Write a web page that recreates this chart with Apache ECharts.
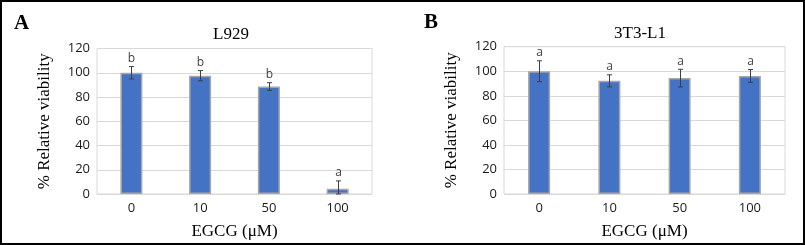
<!DOCTYPE html>
<html>
<head>
<meta charset="utf-8">
<script src="https://cdn.jsdelivr.net/npm/echarts@6/dist/echarts.min.js"></script>
<style>html,body{margin:0;padding:0;background:#fff}#c{width:805px;height:245px}</style>
</head>
<body>
<div id="c"></div>
<script>
const categories = ['0', '10', '50', '100'];
const yTicks = [0, 20, 40, 60, 80, 100, 120];
const l929Mean = [100, 97.6, 88.6, 4.3];
const l929Err = [5.1, 4.2, 3.2, 6.5];
const l929Letters = ['b', 'b', 'b', 'a'];
const t3Mean = [100, 92.2, 94.4, 96.2];
const t3Err = [8.5, 4.9, 7.2, 5.2];
const t3Letters = ['a', 'a', 'a', 'a'];

const chart = echarts.init(document.getElementById('c'));
const serif = 'Liberation Serif';
const sans = 'Open Sans';

function errSeries(idx, mean, err, letters) {
  return {
    type: 'custom', xAxisIndex: idx, yAxisIndex: idx, z: 10,
    data: mean.map((m, i) => [i, m, err[i], letters[i]]),
    renderItem: function (params, api) {
      const i = api.value(0), m = api.value(1), e = api.value(2);
      const top = api.coord([i, m + e]);
      const bot = api.coord([i, Math.max(0, m - e)]);
      const x = Math.round(top[0]) + 0.5;
      const c = 2.5;
      const st = { stroke: '#3f3f3f', lineWidth: 1 };
      return {
        type: 'group', children: [
          { type: 'line', shape: { x1: x, y1: top[1], x2: x, y2: bot[1] }, style: st },
          { type: 'line', shape: { x1: x - c, y1: top[1], x2: x + c, y2: top[1] }, style: st },
          { type: 'line', shape: { x1: x - c, y1: bot[1], x2: x + c, y2: bot[1] }, style: st },
          { type: 'text', x: x, y: top[1] - 2, style: { text: letters[i], fill: '#3f3f3f', font: '12px "Open Sans"', align: 'center', verticalAlign: 'bottom' } }
        ]
      };
    }
  };
}

function yAx(idx) {
  return {
    gridIndex: idx, type: 'value', min: 0, max: 120, interval: 20,
    name: '% Relative viability', nameLocation: 'middle', nameGap: 44,
    nameTextStyle: { fontFamily: serif, fontSize: 17, color: '#000' },
    axisLine: { show: false }, axisTick: { show: false },
    axisLabel: { fontFamily: sans, fontSize: 13, color: '#1a1a1a', margin: 7 },
    splitLine: { lineStyle: { color: '#d9d9d9', width: 1 } }
  };
}
function xAx(idx) {
  return {
    gridIndex: idx, type: 'category', data: categories,
    name: 'EGCG (\u03bcM)', nameLocation: 'middle', nameGap: 29,
    nameTextStyle: { fontFamily: serif, fontSize: 17, color: '#000' },
    axisLine: { show: false }, axisTick: { show: false },
    axisLabel: { fontFamily: sans, fontSize: 13, color: '#1a1a1a', margin: 8 }
  };
}
function barSeries(idx, mean) {
  return {
    type: 'bar', xAxisIndex: idx, yAxisIndex: idx, data: mean, barWidth: 22,
    itemStyle: { color: '#4472c4', borderColor: '#a6a6a6', borderWidth: 1.5 }
  };
}

chart.setOption({
  animation: false,
  title: [
    { text: 'A', left: 14, top: 13, padding: 0, textStyle: { fontFamily: serif, fontWeight: 'bold', fontSize: 21, color: '#000' } },
    { text: 'B', left: 424, top: 12, padding: 0, textStyle: { fontFamily: serif, fontWeight: 'bold', fontSize: 21, color: '#000' } },
    { text: 'L929', left: 231, textAlign: 'center', top: 26, padding: 0, textStyle: { fontFamily: serif, fontWeight: 'normal', fontSize: 17, color: '#000' } },
    { text: '3T3-L1', left: 640, textAlign: 'center', top: 25, padding: 0, textStyle: { fontFamily: serif, fontWeight: 'normal', fontSize: 17, color: '#000' } }
  ],
  grid: [
    { left: 97, right: 433, top: 48.5, height: 148.2, show: true, borderColor: '#d9d9d9', borderWidth: 1, backgroundColor: 'transparent' },
    { left: 504, right: 20, top: 46.7, height: 150, show: true, borderColor: '#d9d9d9', borderWidth: 1, backgroundColor: 'transparent' }
  ],
  xAxis: [xAx(0), xAx(1)],
  yAxis: [yAx(0), yAx(1)],
  series: [
    barSeries(0, l929Mean), errSeries(0, l929Mean, l929Err, l929Letters),
    barSeries(1, t3Mean), errSeries(1, t3Mean, t3Err, t3Letters)
  ],
  graphic: [
    { type: 'rect', shape: { x: 1, y: 1, width: 803, height: 243 }, style: { fill: 'none', stroke: '#000', lineWidth: 2 }, z: 100 }
  ]
});
</script>
</body>
</html>
